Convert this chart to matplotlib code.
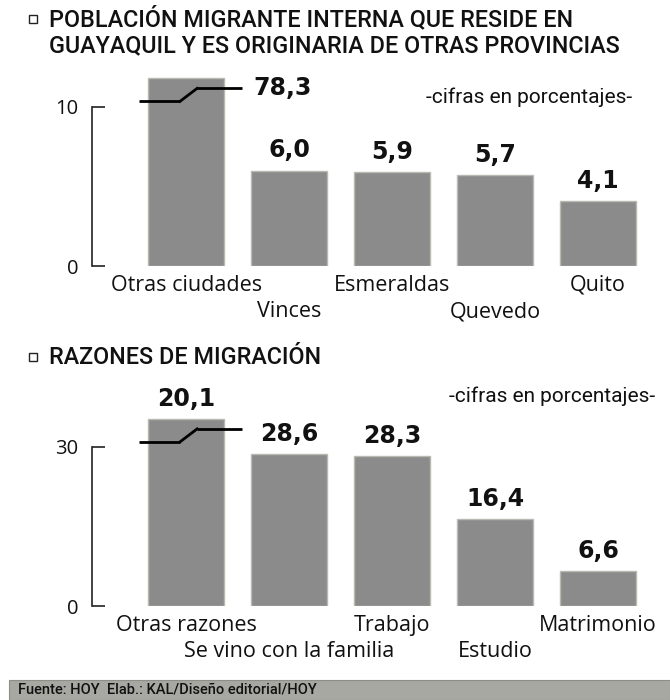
import matplotlib
matplotlib.use("Agg")
import matplotlib.pyplot as plt
from matplotlib.patches import Rectangle
from matplotlib.transforms import offset_copy

# ---------------- data ----------------
top_title = ["POBLACIÓN MIGRANTE INTERNA QUE RESIDE EN",
             "GUAYAQUIL Y ES ORIGINARIA DE OTRAS PROVINCIAS"]
top_categories = ["Otras ciudades", "Vinces", "Esmeraldas", "Quevedo", "Quito"]
top_values = [78.3, 6.0, 5.9, 5.7, 4.1]
top_value_labels = ["78,3", "6,0", "5,9", "5,7", "4,1"]
top_broken_height = 11.8          # displayed height of the truncated first bar
top_ticks = [0, 10]

bot_title = ["RAZONES DE MIGRACIÓN"]
bot_categories = ["Otras razones", "Se vino con la familia", "Trabajo", "Estudio", "Matrimonio"]
bot_values = [20.1, 28.6, 28.3, 16.4, 6.6]
bot_value_labels = ["20,1", "28,6", "28,3", "16,4", "6,6"]
bot_broken_height = 35.3
bot_ticks = [0, 30]

unit_note = "-cifras en porcentajes-"
source = "Fuente: HOY  Elab.: KAL/Diseño editorial/HOY"

# ---------------- style ----------------
W, H = 670, 700
BAR = "#8b8b8b"
EDGE = "#b9b9b2"
TXT = "#111111"
LABEL_FONT = "Open Sans"
VALUE_FONT = "DejaVu Sans"
TITLE_FONT = "Roboto"

fig = plt.figure(figsize=(W / 100, H / 100), dpi=100)
fig.patch.set_facecolor("white")


def fig_axes(left_px, right_px, base_px, top_px):
    return fig.add_axes([left_px / W, (H - base_px) / H,
                         (right_px - left_px) / W, (base_px - top_px) / H])


def panel(ax, cats, vals, vlabels, broken_h, ticks, ylim, first_label_beside):
    x = list(range(len(cats)))
    heights = [broken_h] + list(vals[1:])
    ax.bar(x, heights, width=0.74, color=BAR, edgecolor=EDGE, linewidth=1.0, zorder=2)
    ax.set_xlim(-0.913, 4.6)
    ax.set_ylim(*ylim)
    for s in ["top", "right", "bottom"]:
        ax.spines[s].set_visible(False)
    ax.spines["left"].set_bounds(ticks[0], ticks[-1])
    ax.spines["left"].set_linewidth(1.2)
    ax.spines["left"].set_color("#222222")
    ax.set_xticks([])
    ax.set_yticks(ticks)
    ax.set_yticklabels([str(t) for t in ticks], fontfamily=LABEL_FONT, fontsize=14.5, color=TXT)
    ax.tick_params(axis="y", direction="in", length=9, width=1.2, pad=10, color="#222222")
    ax.patch.set_alpha(0)

    # category labels, staggered on two rows
    for i, c in enumerate(cats):
        off = -13.7 if i % 2 == 0 else -33.1
        ax.annotate(c, xy=(i, 0), xycoords="data", xytext=(0, off),
                    textcoords="offset points", ha="center", va="center",
                    fontfamily=LABEL_FONT, fontsize=15.5, color=TXT)

    # value labels
    for i, (h, lab) in enumerate(zip(heights, vlabels)):
        if i == 0 and first_label_beside:
            continue
        ax.annotate(lab, xy=(i, h), xytext=(0, 14.5), textcoords="offset points",
                    ha="center", va="center", fontfamily=VALUE_FONT,
                    fontweight="bold", fontsize=17, color=TXT)

    # break symbol on the truncated bar
    tr_lo = offset_copy(ax.transData, fig=fig, y=-16.5, units="points")
    tr_hi = offset_copy(ax.transData, fig=fig, y=-7.2, units="points")
    h0 = heights[0]
    ax.plot([-0.456, -0.058], [h0, h0], transform=tr_lo, color="black", lw=2.0,
            clip_on=False, zorder=4, solid_capstyle="butt")
    p_lo = tr_lo.transform((-0.058, h0))
    p_hi = tr_hi.transform((0.107, h0))
    inv = ax.transData.inverted()
    a = inv.transform(p_lo)
    b = inv.transform(p_hi)
    ax.plot([a[0], b[0]], [a[1], b[1]], color="black", lw=2.0, clip_on=False, zorder=4)
    ax.plot([0.107, 0.544], [h0, h0], transform=tr_hi, color="black", lw=2.0,
            clip_on=False, zorder=4, solid_capstyle="butt")
    if first_label_beside:
        ax.text(0.65, h0, vlabels[0], transform=tr_hi, ha="left", va="center",
                fontfamily=VALUE_FONT, fontweight="bold", fontsize=17, color=TXT)


# ---- top panel ----
ax1 = fig_axes(92, 660, 266, 266 - 12.5 * 15.9)
panel(ax1, top_categories, top_values, top_value_labels, top_broken_height,
      top_ticks, (0, 12.5), True)

# ---- bottom panel ----
ax2 = fig_axes(92, 660, 606, 606 - 38 * 5.3)
panel(ax2, bot_categories, bot_values, bot_value_labels, bot_broken_height,
      bot_ticks, (0, 38), False)

# ---- titles ----
def title_lines(lines, y0, dy):
    fig.patches.append(Rectangle((29 / W, 1 - (y0 + 4) / H), 8 / W, 8 / H,
                                 transform=fig.transFigure, fill=False,
                                 edgecolor="#222222", lw=1.0))
    for k, t in enumerate(lines):
        fig.text(49 / W, 1 - (y0 + k * dy) / H, t, ha="left", va="center",
                 fontfamily=TITLE_FONT, fontweight="medium", fontsize=16.8, color=TXT)

title_lines(top_title, 19, 27)
title_lines(bot_title, 357, 27)

fig.text(632 / W, 1 - 97 / H, unit_note, ha="right", va="center",
         fontfamily=TITLE_FONT, fontsize=15, color=TXT)
fig.text(655 / W, 1 - 396 / H, unit_note, ha="right", va="center",
         fontfamily=TITLE_FONT, fontsize=15, color=TXT)

# ---- footer ----
fig.patches.append(Rectangle((9 / W, 0), (W - 9) / W, 20 / H, transform=fig.transFigure,
                             facecolor="#a8a8a2", edgecolor="#8e8e88", lw=0.8))
fig.text(18 / W, 10 / H, source, ha="left", va="center", fontfamily=TITLE_FONT,
         fontweight="medium", fontsize=10.5, color="#111111")

fig.savefig("out.png", dpi=100)
